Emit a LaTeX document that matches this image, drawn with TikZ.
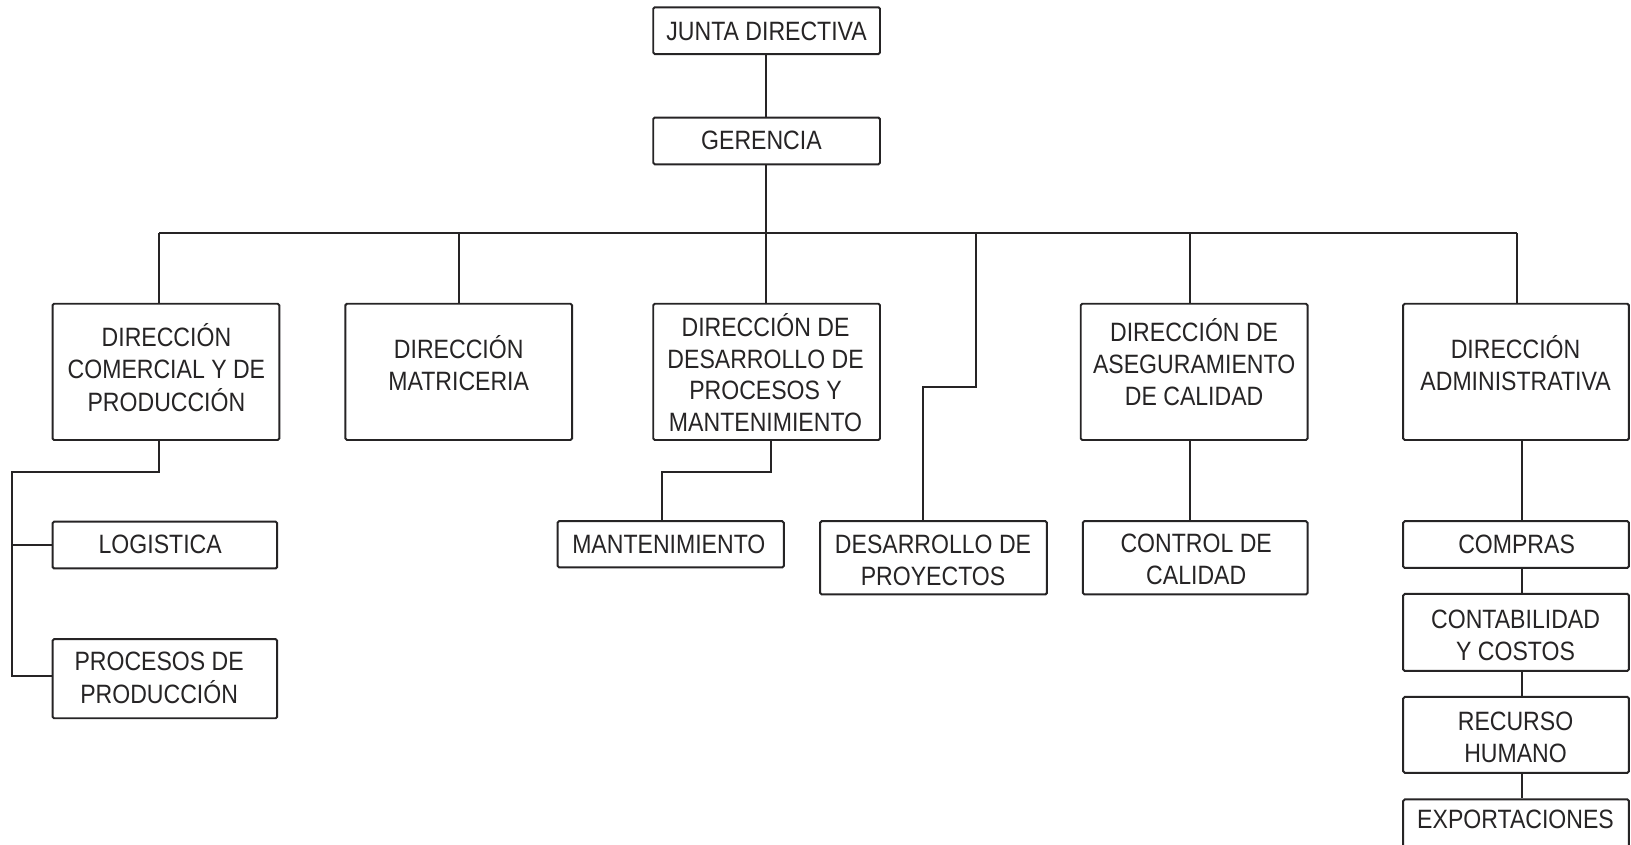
\documentclass[tikz,border=0pt]{standalone}
\usepackage{fontspec}
\setmainfont[FakeStretch=0.87]{Liberation Sans}
\newcommand\mlines[1]{\begin{tabular}[t]{@{}c@{}}#1\end{tabular}}
\definecolor{ink}{HTML}{262425}
\begin{document}
\begin{tikzpicture}[x=1pt,y=-1pt,
  line width=1.9pt, draw=ink,
  box/.style={draw=ink, line width=1.9pt, rounded corners=1.5pt, minimum width=#1, inner sep=0pt},
  txt/.style={anchor=base, inner sep=0pt, text=ink, font=\fontsize{25.5}{30.5}\selectfont},
  conn/.style={draw=ink, line width=1.9pt}]
\fill[white] (0,0) rectangle (1568,812);
\useasboundingbox (0,0) rectangle (1568,812);
\clip (0,0) rectangle (1568,812);

% boxes: (center x, center y), width, height
\node[box=218pt, minimum height=45pt] (jd) at (737,29.5) {};
\node[box=218pt, minimum height=45pt] (ger) at (737,135.5) {};
\node[box=218pt, minimum height=131pt] (dcp) at (159.5,357.5) {};
\node[box=218pt, minimum height=131pt] (dm) at (441,357.5) {};
\node[box=218pt, minimum height=131pt] (ddp) at (737,357.5) {};
\node[box=218pt, minimum height=131pt] (dac) at (1148,357.5) {};
\node[box=217pt, minimum height=131pt] (da) at (1457.5,357.5) {};
\node[box=216pt, minimum height=45pt] (log) at (158.5,524) {};
\node[box=216pt, minimum height=76pt] (pp) at (158.5,652.5) {};
\node[box=217.5pt, minimum height=44.5pt] (mant) at (644.75,523.25) {};
\node[box=218pt, minimum height=70.5pt] (dp) at (897.5,536.25) {};
\node[box=216pt, minimum height=70.5pt] (cc) at (1149,536.25) {};
\node[box=217pt, minimum height=45pt] (comp) at (1457.5,523.5) {};
\node[box=217pt, minimum height=74pt] (cont) at (1457.5,608) {};
\node[box=217pt, minimum height=73pt] (rh) at (1457.5,706.5) {};
\node[box=217pt, minimum height=70pt] (exp) at (1457.5,803.5) {};

% texts
\node[txt] (jdT) at (737,39) {JUNTA DIRECTIVA};
\node[txt] (gerT) at (732,144) {GERENCIA};
\node[txt] (dcpT) at (160,333.5) {\mlines{DIRECCIÓN\\COMERCIAL Y DE\\PRODUCCIÓN}};
\node[txt] (dmT) at (441,344.5) {\mlines{DIRECCIÓN\\MATRICERIA}};
\node[txt] (ddpT) at (736,323.5) {\mlines{DIRECCIÓN DE\\DESARROLLO DE\\PROCESOS Y\\MANTENIMIENTO}};
\node[txt] (dacT) at (1148,328.5) {\mlines{DIRECCIÓN DE\\ASEGURAMIENTO\\DE CALIDAD}};
\node[txt] (daT) at (1457,345) {\mlines{DIRECCIÓN\\ADMINISTRATIVA}};
\node[txt] (logT) at (154,532.5) {LOGISTICA};
\node[txt] (ppT) at (153,645) {\mlines{PROCESOS DE\\PRODUCCIÓN}};
\node[txt] (mantT) at (643,532.5) {MANTENIMIENTO};
\node[txt] (dpT) at (897,532.5) {\mlines{DESARROLLO DE\\PROYECTOS}};
\node[txt] (ccT) at (1150,531.5) {\mlines{CONTROL DE\\CALIDAD}};
\node[txt] (compT) at (1458,532.5) {COMPRAS};
\node[txt] (contT) at (1457,604.5) {\mlines{CONTABILIDAD\\Y COSTOS}};
\node[txt] (rhT) at (1457,702.5) {\mlines{RECURSO\\HUMANO}};
\node[txt] (expT) at (1457,796.5) {EXPORTACIONES};

% bus taps
\coordinate (t1) at (153,224);
\coordinate (t2) at (441,224);
\coordinate (t3) at (736,224);
\coordinate (t4) at (938,224);
\coordinate (t5) at (1144,224);
\coordinate (t6) at (1458,224);
\coordinate (c1) at (12,454);
\coordinate (c1b) at (12,649.5);
\coordinate (c2) at (741,453.5);
\coordinate (c2b) at (636.5,453.5);
\coordinate (c3) at (938,371.7);
\coordinate (c3b) at (887,371.7);
\coordinate (c6) at (1463,430);

% connectors
\draw[conn] (t3 |- jd.south) -- (t3 |- ger.north);
\draw[conn] (t3 |- ger.south) -- (t3);
\draw[conn] (t1) -- (t6);
\draw[conn] (t1) -- (t1 |- dcp.north);
\draw[conn] (t2) -- (t2 |- dm.north);
\draw[conn] (t3) -- (t3 |- ddp.north);
\draw[conn] (t4) -- (c3) -- (c3b) -- (c3b |- dp.north);
\draw[conn] (t5) -- (t5 |- dac.north);
\draw[conn] (t6) -- (t6 |- da.north);
\draw[conn] (t1 |- dcp.south) -- (t1 |- c1) -- (c1) -- (c1b) -- (c1b -| pp.west);
\draw[conn] (c1 |- log.west) -- (log.west);
\draw[conn] (c2 |- ddp.south) -- (c2) -- (c2b) -- (c2b |- mant.north);
\draw[conn] (t5 |- dac.south) -- (t5 |- cc.north);
\draw[conn] (c6 |- da.south) -- (c6 |- comp.north);
\draw[conn] (c6 |- comp.south) -- (c6 |- cont.north);
\draw[conn] (c6 |- cont.south) -- (c6 |- rh.north);
\draw[conn] (c6 |- rh.south) -- (c6 |- exp.north);
\end{tikzpicture}
\end{document}
